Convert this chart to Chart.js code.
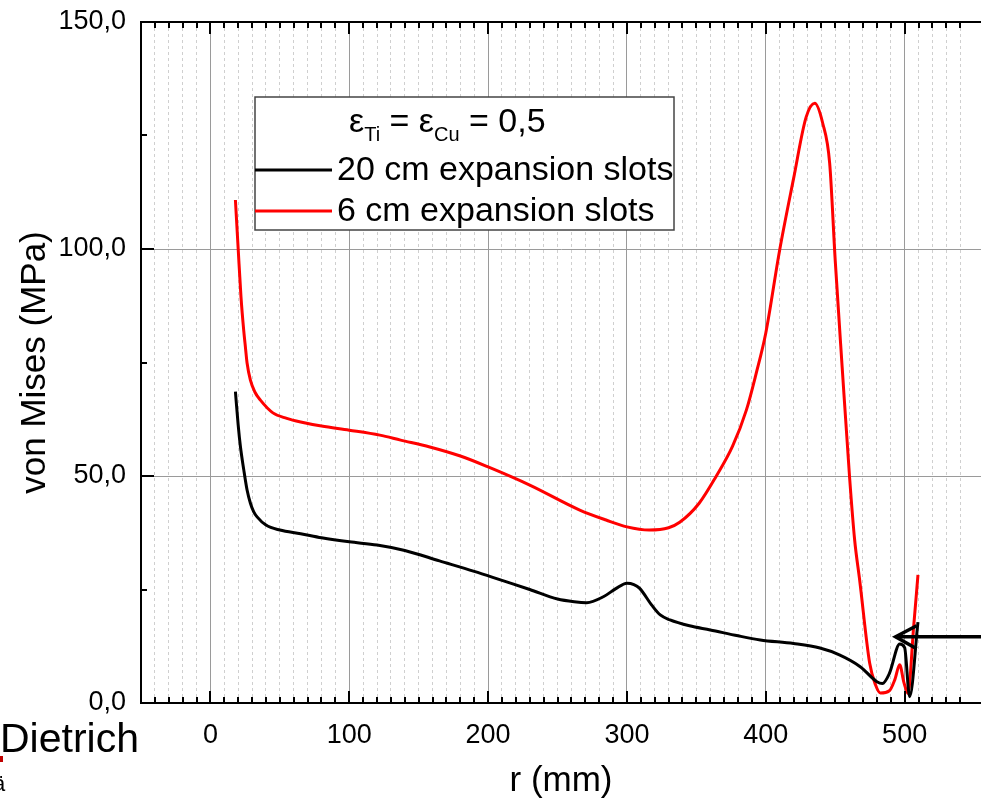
<!DOCTYPE html>
<html>
<head>
<meta charset="utf-8">
<script src="https://cdn.jsdelivr.net/npm/chart.js@4.4.1/dist/chart.umd.min.js"></script>
<style>
  html, body { margin: 0; padding: 0; background: #fff; }
  .chart-container { position: relative; width: 981px; height: 799px; }
</style>
</head>
<body>
<div class="chart-container"><canvas id="myChart"></canvas></div>
<script>
// valores: r (mm) x von Mises (MPa)
var rBlack = [18, 20, 21.6, 24, 26.4, 28.8, 31.2, 33.6, 40, 50, 65, 80, 100, 120, 140, 165, 190, 210, 230, 250, 262, 271, 283, 292, 300, 305, 309, 318, 324, 331, 345, 360, 380, 396, 420, 439, 453, 468, 480, 484, 489, 496.5, 500, 503.6, 509.6];
var sBlack = [68.6, 61.2, 56.5, 51.4, 46.9, 44.0, 42.1, 41.0, 39.2, 38.1, 37.3, 36.4, 35.5, 34.8, 33.6, 31.3, 29.0, 27.0, 25.0, 22.9, 22.3, 22.1, 23.4, 25.2, 26.4, 26.1, 25.3, 21.5, 19.4, 18.3, 17.0, 16.1, 14.8, 13.9, 13.1, 12.1, 10.6, 8.0, 4.7, 4.3, 6.5, 13.0, 12.2, 1.4, 17.8];

var rRed = [18, 20, 22, 24, 25.2, 26.4, 28.8, 32, 36, 45, 55, 65, 80, 100, 122, 137, 158, 180, 200, 230, 266, 285, 300, 316, 330, 338, 352, 364, 376, 386, 393, 400, 410, 420, 429, 435.3, 441, 446, 450, 455, 460.4, 464, 467.6, 474.8, 479, 482.5, 489, 493, 496.4, 499.5, 502.4, 506.5, 509.6];
var sRed = [110.8, 100, 89.5, 82, 78.4, 74.9, 71.1, 68.5, 66.7, 63.9, 62.7, 61.9, 61.0, 60.1, 59.0, 57.9, 56.4, 54.4, 52.0, 48.0, 42.5, 40.3, 38.8, 38.1, 38.6, 39.8, 44, 49.8, 56.5, 64.5, 72.5, 81.5, 99.8, 115.5, 129, 132.1, 127.7, 118.9, 97.5, 74, 49.5, 35.9, 27.1, 8.8, 4, 2.2, 2.7, 5.2, 8.4, 4.5, 2.1, 16.8, 28.2];

var seriesLabels = ['20 cm expansion slots', '6 cm expansion slots'];
var seriesColors = ['#000000', '#ff0000'];
var xTickLabels = [0, 100, 200, 300, 400, 500];
var yTickLabels = [0, 50, 100, 150];
var arrowTip = { x: 493.5, y: 14.6 };

var FONT = "'Liberation Sans', Arial, sans-serif";
Chart.defaults.font.family = FONT;
Chart.defaults.color = '#000';

function toPoints(xs, ys) {
  return xs.map(function(x, i) { return { x: x, y: ys[i] }; });
}

// zera o padding que o Chart.js reserva para os rótulos
function noPadding(scale) {
  scale.paddingTop = 0;
  scale.paddingBottom = 0;
  scale.paddingLeft = 0;
  scale.paddingRight = 0;
}

// moldura: linha de cima + ticks para dentro
var framePlugin = {
  id: 'frame',
  afterDraw: function(chart) {
    var ctx = chart.ctx, ca = chart.chartArea;
    var xs = chart.scales.x, ys = chart.scales.y;
    ctx.save();
    ctx.strokeStyle = '#000';
    ctx.lineWidth = 2;
    ctx.beginPath();
    ctx.moveTo(ca.left, ca.top);
    ctx.lineTo(ca.right, ca.top);
    ctx.stroke();
    ctx.beginPath();
    xs.ticks.forEach(function(t) {
      if (t.value % 10 !== 0 || t.value <= xs.min) return;
      var px = Math.round(xs.getPixelForValue(t.value));
      var len = t.value % 100 === 0 ? 12 : 6;
      ctx.moveTo(px, ca.bottom); ctx.lineTo(px, ca.bottom - len);
      ctx.moveTo(px, ca.top); ctx.lineTo(px, ca.top + len);
    });
    ys.ticks.forEach(function(t) {
      var py = Math.round(ys.getPixelForValue(t.value));
      var len = t.value % 50 === 0 ? 13 : 6;
      ctx.moveTo(ca.left, py); ctx.lineTo(ca.left + len, py);
    });
    ctx.stroke();

    // texto solto no canto inferior esquerdo
    ctx.fillStyle = '#000';
    ctx.font = '41px ' + FONT;
    ctx.textBaseline = 'alphabetic';
    ctx.textAlign = 'left';
    ctx.fillText('Dietrich', 0, 752);
    ctx.fillStyle = '#c00000';
    ctx.fillRect(0, 756, 3, 6);
    ctx.fillStyle = '#000';
    ctx.font = '22px ' + FONT;
    ctx.fillText('\u00e4', -7, 791);
    ctx.restore();
  }
};

// legenda dentro do gráfico
var legendBoxPlugin = {
  id: 'legendBox',
  afterDatasetsDraw: function(chart) {
    var ctx = chart.ctx;
    var box = { left: 255, top: 97, right: 674, bottom: 230 };
    ctx.save();
    ctx.fillStyle = '#fff';
    ctx.fillRect(box.left, box.top, box.right - box.left, box.bottom - box.top);
    ctx.strokeStyle = '#444';
    ctx.lineWidth = 1.5;
    ctx.strokeRect(box.left, box.top, box.right - box.left, box.bottom - box.top);

    // cabeçalho com subscritos
    var big = '34px ' + FONT, small = '20px ' + FONT;
    var x = 349, base = 132, subBase = 141;
    var parts = [
      ['\u03b5', big, base], ['Ti', small, subBase], [' = ', big, base],
      ['\u03b5', big, base], ['Cu', small, subBase], [' = 0,5', big, base]
    ];
    ctx.fillStyle = '#000';
    ctx.textBaseline = 'alphabetic';
    ctx.textAlign = 'left';
    parts.forEach(function(p) {
      ctx.font = p[1];
      ctx.fillText(p[0], x, p[2]);
      x += ctx.measureText(p[0]).width;
    });

    var rowsY = [170, 211];
    chart.data.datasets.forEach(function(ds, i) {
      ctx.strokeStyle = ds.borderColor;
      ctx.lineWidth = 3;
      ctx.beginPath();
      ctx.moveTo(box.left, rowsY[i]);
      ctx.lineTo(332, rowsY[i]);
      ctx.stroke();
      ctx.fillStyle = '#000';
      ctx.font = big;
      ctx.textBaseline = 'middle';
      ctx.fillText(ds.label, 337, rowsY[i] + 1);
    });
    ctx.restore();
  }
};

// seta apontando para o pico
var arrowPlugin = {
  id: 'arrow',
  afterDatasetsDraw: function(chart) {
    var ctx = chart.ctx, ca = chart.chartArea;
    var tx = chart.scales.x.getPixelForValue(arrowTip.x);
    var ty = chart.scales.y.getPixelForValue(arrowTip.y);
    ctx.save();
    ctx.strokeStyle = '#000';
    ctx.lineWidth = 3.5;
    ctx.beginPath();
    ctx.moveTo(ca.right, ty);
    ctx.lineTo(tx, ty);
    ctx.stroke();
    ctx.beginPath();
    ctx.moveTo(tx + 21, ty - 11);
    ctx.lineTo(tx, ty);
    ctx.lineTo(tx + 21, ty + 12);
    ctx.stroke();
    ctx.restore();
  }
};

var ctx = document.getElementById('myChart').getContext('2d');

new Chart(ctx, {
  type: 'line',
  data: {
    datasets: [{
      label: seriesLabels[0],
      data: toPoints(rBlack, sBlack),
      borderColor: seriesColors[0],
      borderWidth: 3,
      pointRadius: 0,
      cubicInterpolationMode: 'monotone',
      fill: false
    }, {
      label: seriesLabels[1],
      data: toPoints(rRed, sRed),
      borderColor: seriesColors[1],
      borderWidth: 3,
      pointRadius: 0,
      cubicInterpolationMode: 'monotone',
      fill: false
    }]
  },
  options: {
    responsive: true,
    maintainAspectRatio: false,
    animation: false,
    layout: { padding: { top: 22, right: 0, left: 0, bottom: 0 } },
    plugins: {
      legend: { display: false },
      tooltip: { enabled: false }
    },
    scales: {
      x: {
        type: 'linear',
        min: -50,
        max: 555,
        afterFit: function(scale) { scale.height = 96; noPadding(scale); },
        ticks: {
          stepSize: 10,
          autoSkip: false,
          maxRotation: 0,
          padding: 16,
          font: { size: 27 },
          color: '#000',
          callback: function(v) { return xTickLabels.indexOf(v) >= 0 ? String(v) : ''; }
        },
        grid: {
          drawTicks: false,
          lineWidth: 1,
          color: function(c) {
            if (!c.tick) return 'rgba(0,0,0,0)';
            var v = c.tick.value;
            if (v % 100 === 0) return '#9a9a9a';
            if (v % 10 === 0) return '#cfcfcf';
            return 'rgba(0,0,0,0)';
          }
        },
        border: {
          color: '#000',
          width: 2,
          dash: function(c) {
            if (!c.tick) return [];
            return c.tick.value % 100 === 0 ? [] : [3, 3];
          }
        },
        title: {
          display: true,
          text: 'r (mm)',
          font: { size: 35, lineHeight: 1 },
          padding: 0,
          color: '#000'
        }
      },
      y: {
        min: 0,
        max: 150,
        afterFit: function(scale) { scale.width = 141; noPadding(scale); },
        ticks: {
          stepSize: 25,
          padding: 15,
          font: { size: 27 },
          color: '#000',
          callback: function(v) { return yTickLabels.indexOf(v) >= 0 ? v.toFixed(1).replace('.', ',') : ''; }
        },
        grid: {
          drawTicks: false,
          lineWidth: 1,
          color: function(c) {
            if (!c.tick) return 'rgba(0,0,0,0)';
            var v = c.tick.value;
            return (v === 50 || v === 100) ? '#9a9a9a' : 'rgba(0,0,0,0)';
          }
        },
        border: { color: '#000', width: 2 },
        title: {
          display: true,
          text: 'von Mises (MPa)',
          font: { size: 35, lineHeight: 1.2 },
          padding: { top: 14, bottom: 0 },
          color: '#000'
        }
      }
    }
  },
  plugins: [framePlugin, legendBoxPlugin, arrowPlugin]
});
</script>
</body>
</html>
